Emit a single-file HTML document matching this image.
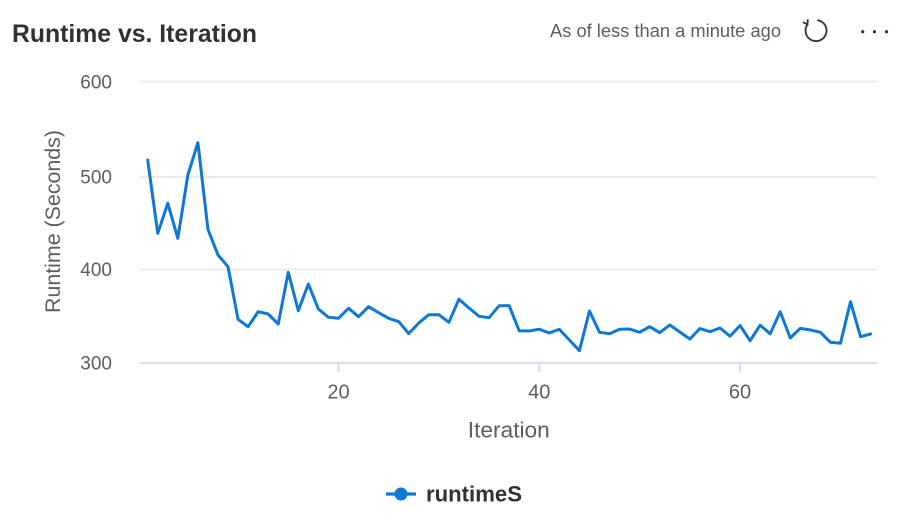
<!DOCTYPE html>
<html><head><meta charset="utf-8"><style>
html,body{margin:0;padding:0;background:#fff;width:914px;height:531px;overflow:hidden}
svg{display:block}
text{font-family:"Liberation Sans",sans-serif}
</style></head><body>
<svg width="914" height="531" viewBox="0 0 914 531" xmlns="http://www.w3.org/2000/svg">
<rect width="914" height="531" fill="#fff"/>
<!-- header -->
<text x="12" y="42" font-size="25" font-weight="bold" fill="#323130" textLength="245" lengthAdjust="spacingAndGlyphs">Runtime vs. Iteration</text>
<text x="550" y="37" font-size="18" fill="#605e5c" textLength="231" lengthAdjust="spacingAndGlyphs">As of less than a minute ago</text>
<g fill="none" stroke="#323130" stroke-width="1.8" stroke-linecap="round">
<path d="M 818 20.3 A 10.5 10.5 0 1 1 807.5 24.5"/>
<path d="M 803.5 22.5 L 807.5 24.5 L 807.8 20"/>
</g>
<circle cx="862.7" cy="31.7" r="1.6" fill="#323130"/>
<circle cx="874.5" cy="31.7" r="1.6" fill="#323130"/>
<circle cx="886.5" cy="31.7" r="1.6" fill="#323130"/>
<!-- gridlines -->
<g stroke="#ebebeb" stroke-width="2">
<line x1="140" y1="81.5" x2="877" y2="81.5"/>
<line x1="140" y1="177" x2="877" y2="177"/>
<line x1="140" y1="269.5" x2="877" y2="269.5"/>
</g>
<g stroke="#d8deed" stroke-width="2">
<line x1="140" y1="363" x2="877" y2="363"/>
<line x1="338.5" y1="363" x2="338.5" y2="372"/>
<line x1="539.3" y1="363" x2="539.3" y2="372"/>
<line x1="740" y1="363" x2="740" y2="372"/>
</g>
<!-- y tick labels -->
<g font-size="19" fill="#605e5c" text-anchor="end">
<text x="112" y="88.5">600</text>
<text x="112" y="183.5">500</text>
<text x="112" y="276">400</text>
<text x="112" y="369.5">300</text>
</g>
<!-- x tick labels -->
<g font-size="20" fill="#605e5c" text-anchor="middle">
<text x="338.5" y="398.5">20</text>
<text x="539.3" y="398.5">40</text>
<text x="740" y="398.5">60</text>
</g>
<text x="508.8" y="437.5" font-size="22" fill="#605e5c" text-anchor="middle" textLength="82" lengthAdjust="spacingAndGlyphs">Iteration</text>
<text transform="translate(60,221.5) rotate(-90)" font-size="21" fill="#605e5c" text-anchor="middle" textLength="183" lengthAdjust="spacingAndGlyphs">Runtime (Seconds)</text>
<!-- series -->
<polyline fill="none" stroke="#0f78d4" stroke-width="3" stroke-linejoin="round" stroke-linecap="round" points="
147.7,160 157.74,233.3 167.78,203.3 177.82,238.3 187.86,175 197.9,142.7 207.94,229.3 217.98,255 228.02,266.7 238.06,319.3
248.1,326.7 258.14,311.7 268.18,314 278.22,324 288.26,272.3 298.3,310.7 308.34,284 318.38,309 328.42,317.3 338.46,318.3
348.5,308.3 358.54,316.7 368.58,306.7 378.62,312.7 388.66,318.3 398.7,321.7 408.74,333.5 418.78,323 428.82,314.7 438.86,314.7
448.9,322.3 458.94,299.2 468.98,308 479.02,316.3 489.06,317.7 499.1,305.8 509.14,305.6 519.18,330.8 529.22,331 539.26,329.2
549.3,333 559.34,329.3 569.38,340 579.42,350.7 589.46,311 599.5,332.3 609.54,333.7 619.58,329.3 629.62,329 639.66,332.3
649.7,326.7 659.74,332.7 669.78,325 679.82,332 689.86,339 699.9,328.5 709.94,331.7 719.98,328 730.02,336.2 740.06,325.5
750.1,340.7 760.14,325.2 770.18,333.8 780.22,311.8 790.26,338 800.3,328.3 810.34,330 820.38,332.3 830.42,342.3 840.46,343.3
850.5,301.7 860.54,336.7 870.58,334"/>
<!-- legend -->
<line x1="386" y1="494" x2="416" y2="494" stroke="#0f78d4" stroke-width="3.2"/>
<circle cx="401" cy="494" r="6.5" fill="#0f78d4"/>
<text x="426" y="501.7" font-size="22" font-weight="bold" fill="#323130" textLength="96" lengthAdjust="spacingAndGlyphs">runtimeS</text>
</svg>
</body></html>
